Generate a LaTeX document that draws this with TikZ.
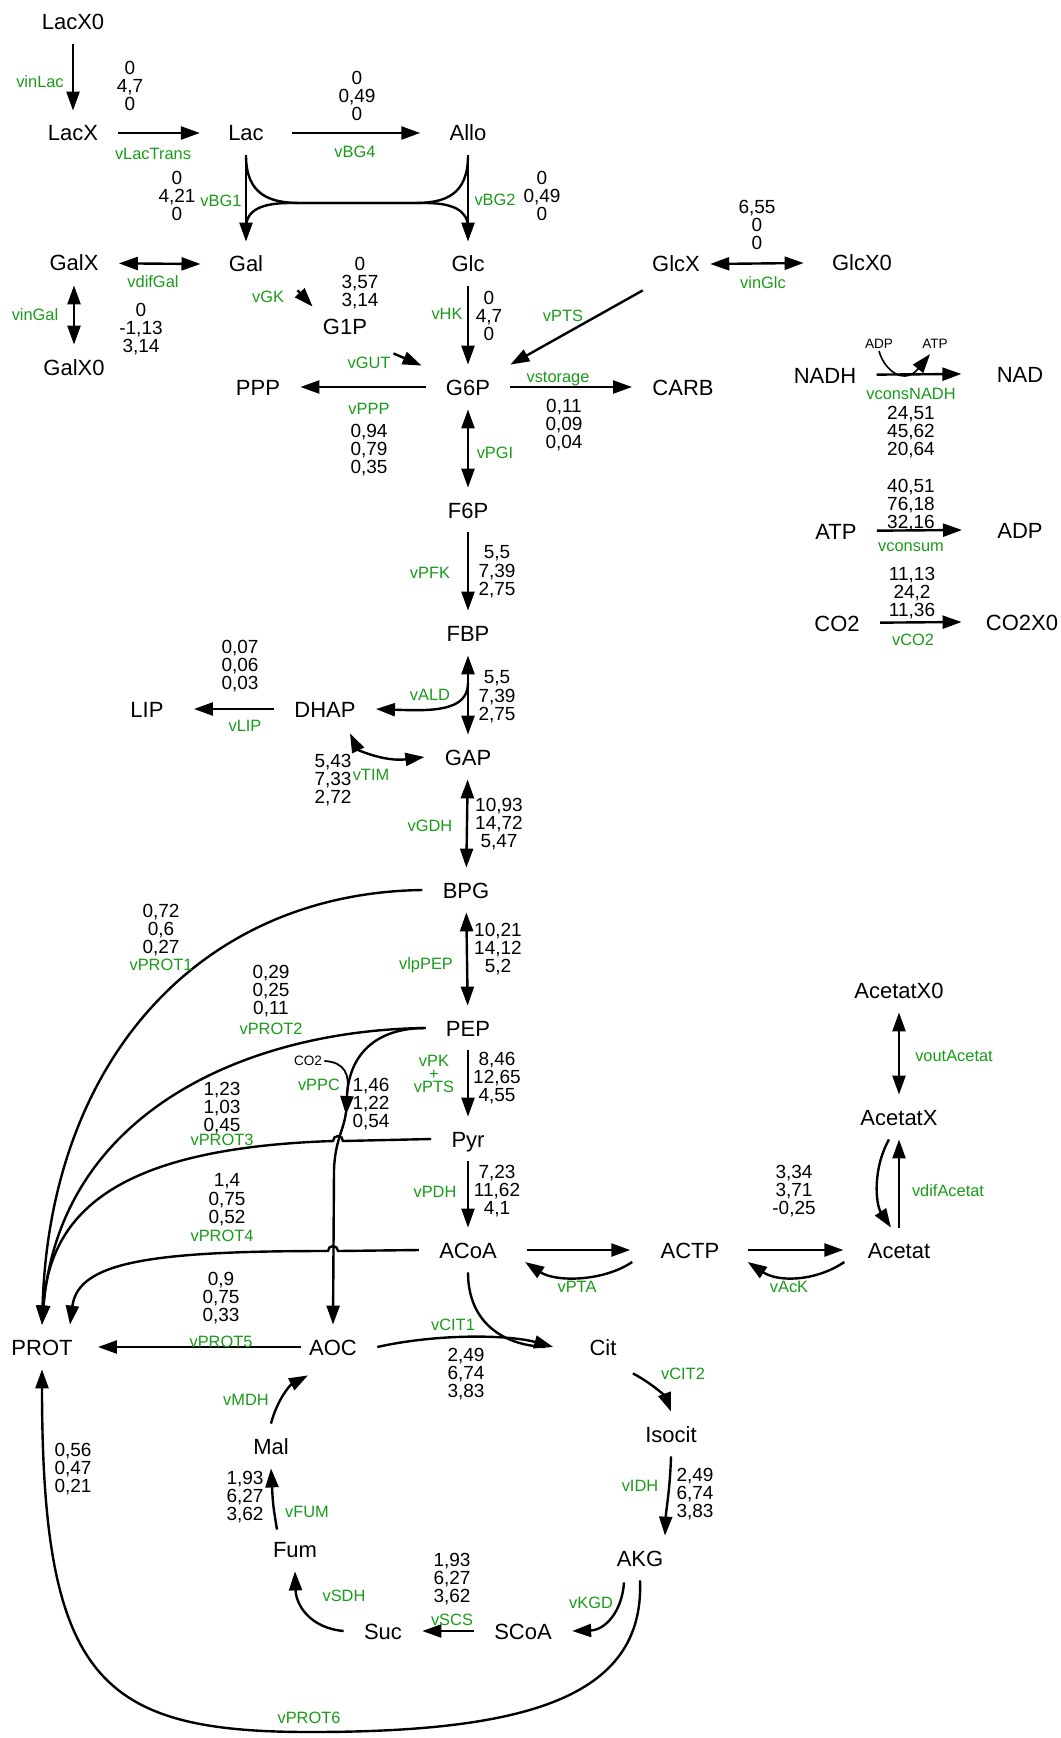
\documentclass[tikz,border=0pt]{standalone}
\usepackage{fontspec}
\setmainfont{Liberation Sans}
\usetikzlibrary{arrows.meta,calc}
\definecolor{vgreen}{RGB}{25,155,25}

\begin{document}
\begin{tikzpicture}[x=0.5pt, y=-0.5pt,
    met/.style={inner xsep=10pt, inner ysep=7pt, text height=8pt, text depth=0pt, font=\fontsize{11}{13}\selectfont},
    flux/.style={align=center, inner sep=0pt, font=\fontsize{9.5}{9.2}\selectfont},
    enz/.style={inner sep=0pt, text=vgreen, font=\fontsize{8.2}{9}\selectfont},
    cof/.style={inner sep=1pt, font=\fontsize{6.8}{8}\selectfont},
    rxn/.style={-{Triangle[length=9.5pt,width=6.5pt]}, line width=1.2pt},
    rev/.style={{Triangle[length=9.5pt,width=6.5pt]}-{Triangle[length=9.5pt,width=6.5pt]}, line width=1.2pt},
    link/.style={line width=1.2pt}
]
    \useasboundingbox (0,0) rectangle (1060,1738);

    % Lactose uptake
    \node[met] (lacx0) at (73,22) {LacX0};
    \node[met] (lacx) at (73,133) {LacX};
    \node[met] (lac) at (246,133) {Lac};
    \node[met] (allo) at (468,133) {Allo};
    \draw[rxn] (lacx0) -- (lacx);
    \node[enz] (lvinlac) at (40,82) {vinLac};
    \node[flux] (fvinlac) at (130,86) {0\\4,7\\0};
    \draw[rxn] (lacx) -- ($(lac.west)+(-8,0)$);
    \node[enz] (llactrans) at (153,154) {vLacTrans};
    \draw[rxn] ($(lac.east)+(8,0)$) -- ($(allo.west)+(-9,0)$);
    \node[enz] (lbg4) at (355,152) {vBG4};
    \node[flux] (fbg4) at (357,96) {0\\0,49\\0};

    % Galactose / glucose
    \node[met] (galx) at (74,263) {GalX};
    \node[met] (gal) at (246,264) {Gal};
    \node[met] (glc) at (468,264) {Glc};
    \node[met] (galx0) at (74,367) {GalX0};
    \draw[rxn] (lac) -- (gal);
    \draw[rxn] (allo) -- (glc);
    \draw[link] (lac.south) .. controls (246,195) and (270,203) .. (300,203) -- (415,203) .. controls (445,203) and (468,195) .. (allo.south);
    \draw[link] ($(gal.north)+(0,-14)$) .. controls (246,210) and (262,203) .. (290,203) -- (425,203) .. controls (452,203) and (468,210) .. ($(glc.north)+(0,-14)$);
    \node[flux] (fbg1) at (177,196) {0\\4,21\\0};
    \node[enz] (lbg1) at (221,201) {vBG1};
    \node[enz] (lbg2) at (495,200) {vBG2};
    \node[flux] (fbg2) at (542,196) {0\\0,49\\0};
    \draw[rev] (galx) -- ($(gal.west)+(-8,0)$);
    \node[enz] (ldifgal) at (153,282) {vdifGal};
    \draw[rev] (galx) -- (galx0);
    \node[enz] (lingal) at (35,315) {vinGal};
    \node[flux] (fingal) at (141,329) {0\\-1,13\\3,14};

    % G1P, G6P
    \node[met] (g1p) at (345,327) {G1P};
    \node[met] (g6p) at (468,387) {G6P};
    \node[met] (ppp) at (258,387) {PPP};
    \node[met] (carb) at (683,387) {CARB};
    \draw[rxn] ($(gal.south east)+(14,4)$) -- ($(g1p.north west)+(10,2)$);
    \node[enz] (lgk) at (268,297) {vGK};
    \node[flux] (fgk) at (360,283) {0\\3,57\\3,14};
    \draw[rxn] (glc) -- (g6p);
    \node[enz] (lhk) at (447,314) {vHK};
    \node[flux] (fhk) at (489,316) {0\\4,7\\0};
    \draw[rxn] ($(g1p.south east)+(6,4)$) -- ($(g6p.north west)+(-4,1)$);
    \node[enz] (lgut) at (369,363) {vGUT};
    \draw[rxn] (g6p) -- (ppp);
    \node[enz] (lppp) at (369,409) {vPPP};
    \node[flux] (fppp) at (369,450) {0,94\\0,79\\0,35};
    \draw[rxn] (g6p) -- (carb);
    \node[enz] (lstorage) at (558,379) {vstorage};
    \node[flux] (fstorage) at (564,425) {0,11\\0,09\\0,04};

    % Glucose uptake
    \node[met] (glcx) at (676,264) {GlcX};
    \node[met] (glcx0) at (862,263) {GlcX0};
    \draw[rev] ($(glcx.east)+(-10,0)$) -- ($(glcx0.west)+(-8,0)$);
    \node[enz] (linglc) at (763,283) {vinGlc};
    \node[flux] (finglc) at (757,225) {6,55\\0\\0};
    \draw[rxn] ($(glcx.south west)+(11,4)$) -- (g6p.north east);
    \node[enz] (lpts) at (563,316) {vPTS};

    % Cofactors
    \node[met] (nadh) at (825,375) {NADH};
    \node[met] (nad) at (1020,374) {NAD};
    \draw[rxn] (nadh) -- ($(nad.west)+(-15,0)$);
    \node[cof] (adps) at (879,344) {ADP};
    \node[cof] (atps) at (935,344) {ATP};
    \draw[rxn, line width=0.8pt] (adps.south) .. controls (885,372) and (905,385) .. ($(atps.south)+(-5,3)$);
    \node[enz] (lconsnadh) at (911,394) {vconsNADH};
    \node[flux] (fconsnadh) at (911,432) {24,51\\45,62\\20,64};
    \node[met] (atp) at (836,531) {ATP};
    \node[met] (adp) at (1020,530) {ADP};
    \draw[rxn] (atp) -- ($(adp.west)+(-15,0)$);
    \node[enz] (lconsum) at (911,547) {vconsum};
    \node[flux] (fconsum) at (911,505) {40,51\\76,18\\32,16};
    \node[met] (co2) at (837,623) {CO2};
    \node[met] (co2x0) at (1022,622) {CO2X0};
    \draw[rxn] (co2) -- ($(co2x0.west)+(-4,0)$);
    \node[enz] (lco2) at (913,640) {vCO2};
    \node[flux] (fco2) at (912,593) {11,13\\24,2\\11,36};

    % Glycolysis
    \node[met] (f6p) at (468,510) {F6P};
    \node[met] (fbp) at (468,633) {FBP};
    \node[met] (dhap) at (325,709) {DHAP};
    \node[met] (lip) at (147,709) {LIP};
    \node[met] (gap) at (468,757) {GAP};
    \node[met] (bpg) at (466,890) {BPG};
    \node[met] (pep) at (468,1028) {PEP};
    \node[met] (pyr) at (468,1139) {Pyr};
    \node[met] (acoa) at (468,1250) {ACoA};
    \draw[rev] (g6p) -- (f6p);
    \node[enz] (lpgi) at (495,453) {vPGI};
    \draw[rxn] (f6p) -- (fbp);
    \node[enz] (lpfk) at (430,573) {vPFK};
    \node[flux] (fpfk) at (497,572) {5,5\\7,39\\2,75};
    \draw[rev] (fbp) -- (gap);
    \draw[rxn] ($(fbp.south)!0.35!(gap.north)$) .. controls (468,712) and (430,711) .. (dhap.east);
    \node[enz] (lald) at (430,695) {vALD};
    \node[flux] (fald) at (497,697) {5,5\\7,39\\2,75};
    \draw[rxn] (dhap) -- ($(lip.east)+(10,0)$);
    \node[enz] (llip) at (245,726) {vLIP};
    \node[flux] (flip) at (240,666) {0,07\\0,06\\0,03};
    \draw[rev] ($(dhap.south)+(25,2)$) .. controls (358,750) and (385,762) .. (gap.west);
    \node[enz] (ltim) at (371,775) {vTIM};
    \node[flux] (ftim) at (333,780) {5,43\\7,33\\2,72};
    \draw[rev] (gap) -- (bpg);
    \node[enz] (lgdh) at (430,826) {vGDH};
    \node[flux] (fgdh) at (499,824) {10,93\\14,72\\5,47};
    \draw[rev] (bpg) -- (pep);
    \node[enz] (llppep) at (426,965) {vlpPEP};
    \node[flux] (flppep) at (498,949) {10,21\\14,12\\5,2};
    \draw[rxn] (pep) -- (pyr);
    \node[enz, align=center, font=\fontsize{8.2}{6.7}\selectfont] (lpk) at (434,1074) {vPK\\+\\vPTS};
    \node[flux] (fpk) at (497,1078) {8,46\\12,65\\4,55};
    \draw[rxn] (pyr) -- (acoa);
    \node[enz] (lpdh) at (435,1192) {vPDH};
    \node[flux] (fpdh) at (497,1191) {7,23\\11,62\\4,1};

    % Acetate
    \node[met] (actp) at (690,1250) {ACTP};
    \node[met] (acetat) at (899,1250) {Acetat};
    \node[met] (acetatx) at (899,1117) {AcetatX};
    \node[met] (acetatx0) at (899,990) {AcetatX0};
    \draw[rxn] ($(acoa.east)+(10,0)$) -- ($(actp.west)+(-10,0)$);
    \draw[rxn] ($(actp.west)+(-8,12)$) .. controls +(-30,20) and +(30,20) .. ($(acoa.east)+(8,12)$);
    \node[enz] (lpta) at (577,1287) {vPTA};
    \draw[rxn] ($(actp.east)+(8,0)$) -- ($(acetat.west)+(-4,0)$);
    \draw[rxn] ($(acetat.west)+(-3,12)$) .. controls +(-30,20) and +(30,20) .. ($(actp.east)+(8,12)$);
    \node[enz] (lack) at (789,1287) {vAcK};
    \node[flux] (fack) at (794,1191) {3,34\\3,71\\-0,25};
    \draw[rxn] (acetat) -- (acetatx);
    \draw[rxn] ($(acetatx.south)+(-10,0)$) .. controls (872,1170) and (876,1205) .. ($(acetat.north)+(-8,0)$);
    \node[enz] (ldifacetat) at (948,1191) {vdifAcetat};
    \draw[rev] (acetatx0) -- (acetatx);
    \node[enz] (loutacetat) at (954,1056) {voutAcetat};

    % Proteins and PPC
    \node[met] (prot) at (42,1347) {PROT};
    \node[met] (aoc) at (333,1347) {AOC};
    \draw[rxn] (bpg.west) .. controls (200,893) and (50,1060) .. (prot.north);
    \node[enz] (lprot1) at (161,965) {vPROT1};
    \node[flux] (fprot1) at (161,930) {0,72\\0,6\\0,27};
    \draw[rxn] (pep.west) .. controls (250,1030) and (60,1110) .. (prot.north);
    \node[enz] (lprot2) at (271,1029) {vPROT2};
    \node[flux] (fprot2) at (271,991) {0,29\\0,25\\0,11};
    \draw[rxn] (pep.west) .. controls (375,1028) and (349,1055) .. (346,1115);
    \draw[rxn] (346,1112) .. controls (344,1130) and (335,1140) .. (334,1170) -- (aoc.north);
    \node[cof] (co2s) at (308,1061) {CO2};
    \draw[link, line width=0.9pt] (co2s.east) .. controls (345,1062) and (350,1075) .. (347,1092);
    \node[enz] (lppc) at (319,1085) {vPPC};
    \node[flux] (fppc) at (371,1104) {1,46\\1,22\\0,54};
    \draw[rxn] (pyr.west) -- (343,1141) arc[start angle=0, end angle=-180, radius=5] .. controls (120,1148) and (50,1210) .. (prot.north);
    \node[enz] (lprot3) at (222,1140) {vPROT3};
    \node[flux] (fprot3) at (222,1108) {1,23\\1,03\\0,45};
    \draw[rxn] (acoa.west) -- (338,1251) arc[start angle=0, end angle=-180, radius=5] .. controls (150,1251) and (78,1262) .. ($(prot.north)+(28,0)$);
    \node[enz] (lprot4) at (222,1236) {vPROT4};
    \node[flux] (fprot4) at (227,1200) {1,4\\0,75\\0,52};
    \draw[rxn] ($(aoc.west)+(12,0)$) -- ($(prot.east)+(5,0)$);
    \node[enz] (lprot5) at (221,1342) {vPROT5};
    \node[flux] (fprot5) at (221,1298) {0,9\\0,75\\0,33};

    % TCA cycle
    \node[met] (cit) at (603,1347) {Cit};
    \node[met] (isocit) at (671,1434) {Isocit};
    \node[met] (akg) at (640,1558) {AKG};
    \node[met] (scoa) at (523,1631) {SCoA};
    \node[met] (suc) at (383,1631) {Suc};
    \node[met] (fum) at (295,1549) {Fum};
    \node[met] (mal) at (271,1446) {Mal};
    \draw[rxn] (aoc.east) .. controls (440,1333) and (510,1335) .. ($(cit.west)+(-16,0)$);
    \draw[link] (acoa.south) .. controls (468,1320) and (500,1345) .. ($(cit.west)+(-24,0)$);
    \node[enz] (lcit1) at (453,1325) {vCIT1};
    \node[flux] (fcit1) at (466,1374) {2,49\\6,74\\3,83};
    \draw[rxn] ($(cit.south east)+(-4,4)$) .. controls (655,1385) and (666,1398) .. (isocit.north);
    \node[enz] (lcit2) at (683,1374) {vCIT2};
    \draw[rxn] (isocit.south) .. controls (670,1490) and (666,1510) .. ($(akg.north)+(25,0)$);
    \node[enz] (lidh) at (640,1486) {vIDH};
    \node[flux] (fidh) at (695,1494) {2,49\\6,74\\3,83};
    \draw[rxn] ($(akg.south)+(-16,2)$) .. controls (622,1612) and (605,1630) .. (scoa.east);
    \node[enz] (lkgd) at (591,1603) {vKGD};
    \draw[rxn] (scoa) -- (suc);
    \node[enz] (lscs) at (452,1620) {vSCS};
    \node[flux] (fscs) at (452,1579) {1,93\\6,27\\3,62};
    \draw[rxn] (suc.west) .. controls (310,1628) and (296,1605) .. (fum.south);
    \node[enz] (lsdh) at (344,1596) {vSDH};
    \draw[rxn] ($(fum.north)+(-18,3)$) .. controls (273,1505) .. (mal.south);
    \node[enz] (lfum) at (307,1512) {vFUM};
    \node[flux] (ffum) at (245,1497) {1,93\\6,27\\3,62};
    \draw[rxn] (mal.north) .. controls (277,1400) and (290,1385) .. ($(aoc.south)+(-25,6)$);
    \node[enz] (lmdh) at (246,1400) {vMDH};
    \draw[rxn] (akg.south) .. controls (645,1700) and (520,1732) .. (310,1732) .. controls (100,1732) and (42,1680) .. (prot.south);
    \node[enz] (lprot6) at (309,1718) {vPROT6};
    \node[flux] (fprot6) at (73,1469) {0,56\\0,47\\0,21};
\end{tikzpicture}
\end{document}
